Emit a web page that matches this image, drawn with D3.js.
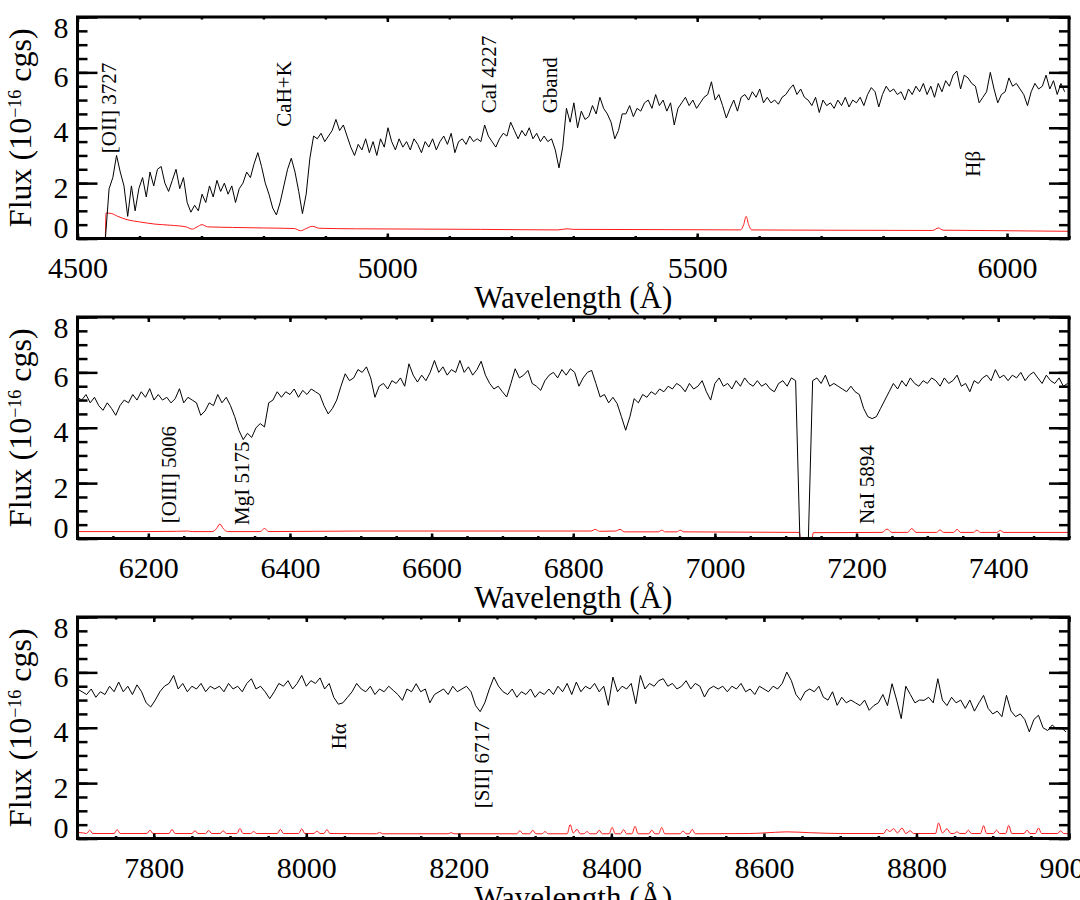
<!DOCTYPE html>
<html>
<head>
<meta charset="utf-8">
<script src="https://cdn.jsdelivr.net/npm/d3@7"></script>
<style>
  html, body { margin: 0; padding: 0; background: #fff; }
  svg { display: block; }
  text { font-family: "Liberation Serif", "Times New Roman", serif; fill: #000; }
</style>
</head>
<body>
<script>
// ---------------- DATA ----------------
const fluxStep = 6; // Angstrom sampling of the flux arrays

// Panel 1: 4545 - 6093 A
const flux1Start = 4545;
const flux1 = [
  0, 1.8, 2.2, 3.0, 2.4, 1.9, 0.8, 1.9, 1.0, 1.8,
  2.2, 1.5, 2.4, 1.9, 2.5, 2.6, 2.0, 1.7, 2.1, 2.5,
  1.8, 2.2, 1.3, 0.95, 1.2, 1.0, 1.6, 1.3, 1.9, 1.5,
  2.1, 1.7, 2.0, 1.6, 1.9, 1.3, 1.8, 2.0, 2.4, 2.2,
  2.7, 3.1, 2.6, 2.0, 1.6, 1.1, 0.85, 1.3, 1.9, 2.5,
  2.9, 2.4, 1.7, 0.9, 1.6, 2.9, 3.7, 3.6, 3.8, 3.5,
  3.7, 3.9, 4.3, 3.9, 4.1, 3.7, 3.3, 3.0, 3.4, 3.2,
  3.6, 3.1, 3.5, 3.0, 3.6, 3.3, 4.0, 3.5, 3.2, 3.6,
  3.3, 3.5, 3.2, 3.6, 3.4, 3.1, 3.5, 3.3, 3.6, 3.2,
  3.5, 3.7, 3.4, 3.8, 3.1, 3.5, 3.6, 3.4, 3.7, 3.5,
  3.6, 3.5, 4.1, 3.7, 3.5, 3.3, 3.6, 3.8, 3.7, 4.2,
  3.9, 3.6, 3.9, 3.7, 4.0, 3.6, 3.8, 3.5, 3.7, 3.5,
  3.6, 3.2, 2.55, 3.3, 4.7, 4.2, 4.9, 4.0, 4.6, 4.3,
  4.4, 4.8, 4.5, 5.1, 4.7, 4.5, 4.2, 3.6, 3.9, 4.5,
  4.5, 4.8, 4.4, 4.7, 4.6, 4.9, 5.0, 4.7, 5.2, 4.8,
  5.0, 4.6, 4.9, 4.1, 4.7, 4.9, 5.1, 4.8, 5.0, 4.7,
  4.9, 5.1, 5.2, 5.66, 5.0, 5.2, 4.8, 4.35, 4.7, 5.0,
  4.6, 5.1, 5.2, 5.0, 5.3, 5.1, 5.4, 4.9, 5.1, 4.9,
  5.0, 4.85, 5.1, 5.2, 5.4, 5.55, 5.2, 5.4, 5.1, 5.0,
  4.8, 5.1, 4.55, 5.0, 4.8, 4.9, 4.7, 5.0, 4.8, 5.1,
  4.75, 5.0, 4.9, 5.1, 4.8, 5.2, 5.45, 5.3, 4.75, 5.2,
  5.5, 5.3, 5.4, 5.2, 5.3, 5.0, 5.4, 5.2, 5.5, 5.3,
  5.6, 5.2, 5.5, 5.1, 5.6, 5.3, 5.7, 5.5, 5.9, 6.05,
  5.4, 5.9, 5.8, 5.6, 5.5, 4.9, 5.1, 5.3, 6.0, 5.4,
  4.9, 5.2, 5.3, 5.8, 5.5, 5.6, 5.4, 5.2, 4.8, 5.3,
  5.6, 5.4, 5.5, 5.9, 5.4, 5.7, 5.2, 5.6, 5.3
];

// Panel 2: 6100 - 7498 A
const flux2Start = 6100;
const flux2 = [
  5.1, 5.0, 5.2, 4.9, 5.1, 4.8, 4.63, 4.9, 4.7, 4.45,
  4.8, 5.0, 4.9, 5.2, 5.0, 5.3, 5.1, 5.41, 5.0, 5.2,
  5.0, 5.1, 4.9, 5.05, 5.41, 4.9, 5.1, 5.0, 4.9, 4.45,
  4.6, 4.9, 4.8, 5.2, 4.9, 5.1, 4.8, 4.4, 3.9, 3.57,
  3.8, 3.65, 4.0, 4.15, 4.03, 4.9, 5.0, 5.3, 5.1, 5.3,
  5.2, 5.4, 5.1, 5.35, 5.2, 5.4, 5.3, 5.2, 4.8, 4.5,
  4.7, 5.0, 5.5, 5.95, 5.7, 5.8, 6.1, 6.0, 6.2, 5.8,
  5.1, 5.5, 5.6, 5.4, 5.7, 5.6, 5.8, 5.5, 6.31, 5.9,
  5.65, 5.9, 5.7, 6.0, 6.43, 6.0, 6.2, 5.9, 6.1, 6.0,
  6.43, 6.0, 6.2, 5.9, 6.1, 6.4, 5.9, 5.6, 5.4, 5.5,
  5.3, 5.11, 5.6, 6.13, 5.8, 5.9, 6.07, 5.6, 5.5, 5.35,
  5.7, 5.9, 6.0, 5.8, 6.1, 5.9, 6.13, 6.0, 5.5, 5.8,
  6.0, 6.07, 5.6, 5.11, 5.2, 4.9, 5.1, 4.87, 4.4, 3.91,
  4.4, 5.05, 4.9, 5.2, 5.1, 5.3, 5.2, 5.4, 5.3, 5.5,
  5.4, 5.6, 5.5, 5.3, 5.6, 5.4, 5.5, 5.7, 5.3, 5.0,
  5.6, 5.8, 5.5, 5.6, 5.4, 5.7, 5.5, 5.8, 5.6, 5.5,
  5.7, 5.5, 5.6, 5.4, 5.3, 5.6, 5.7, 5.5, 5.8, 5.7,
  0, 0, 0, 5.7, 5.8, 5.6, 5.9, 5.5, 5.6, 5.5,
  5.4, 5.3, 5.5, 5.3, 5.2, 4.7, 4.4, 4.33, 4.4, 4.7,
  5.0, 5.3, 5.6, 5.4, 5.7, 5.5, 5.8, 5.6, 5.5, 5.7,
  5.6, 5.8, 5.7, 5.5, 5.8, 5.6, 5.7, 5.9, 5.5, 5.6,
  5.3, 5.7, 5.6, 5.8, 5.9, 5.7, 6.1, 5.8, 5.9, 5.7,
  5.9, 5.8, 6.0, 5.7, 5.9, 6.01, 5.8, 5.6, 5.9, 5.7,
  5.6, 5.8, 5.5, 5.6
];

// Panel 3: 7700 - 8996 A
const flux3Start = 7700;
const flux3 = [
  5.4, 5.3, 5.2, 5.4, 5.1, 5.3, 5.2, 5.5, 5.3, 5.65,
  5.3, 5.5, 5.2, 5.55, 5.3, 4.9, 4.75, 5.0, 5.3, 5.5,
  5.6, 5.89, 5.4, 5.6, 5.3, 5.5, 5.4, 5.6, 5.3, 5.5,
  5.4, 5.5, 5.3, 5.6, 5.4, 5.5, 5.3, 5.6, 5.77, 5.4,
  5.5, 5.3, 5.05, 5.3, 5.6, 5.5, 5.7, 5.4, 5.6, 5.89,
  5.5, 5.7, 5.6, 5.8, 5.4, 5.6, 5.1, 4.85, 4.9, 5.1,
  5.3, 5.6, 5.4, 5.3, 5.5, 5.2, 5.4, 5.3, 5.5, 5.35,
  5.2, 4.99, 5.4, 5.3, 5.59, 5.3, 5.4, 4.9, 5.2, 5.3,
  5.4, 5.2, 5.5, 5.3, 5.4, 5.5, 5.3, 4.8, 4.58, 4.9,
  5.4, 5.83, 5.5, 5.3, 5.2, 5.4, 5.1, 5.3, 5.2, 5.4,
  5.1, 5.3, 5.2, 5.4, 5.2, 5.5, 5.3, 5.6, 5.2, 5.65,
  5.3, 5.5, 5.4, 5.6, 5.3, 5.5, 4.81, 5.83, 5.3, 5.5,
  5.4, 5.6, 4.87, 5.89, 5.4, 5.6, 5.5, 5.7, 5.77, 5.5,
  5.6, 5.4, 5.5, 5.7, 5.4, 5.6, 5.5, 5.11, 5.4, 5.5,
  5.4, 5.5, 5.3, 5.5, 5.4, 5.6, 5.3, 5.4, 5.2, 5.5,
  5.4, 5.3, 5.5, 5.4, 5.6, 6.01, 5.7, 5.2, 4.99, 5.3,
  5.4, 5.3, 5.5, 5.1, 5.0, 5.3, 4.81, 5.1, 4.9, 5.0,
  4.9, 4.8, 5.0, 4.63, 4.8, 4.9, 5.2, 4.8, 5.59, 5.0,
  4.33, 5.5, 5.2, 4.9, 5.0, 4.99, 5.1, 4.9, 5.77, 5.0,
  4.8, 5.1, 4.9, 5.0, 4.7, 5.0, 4.6, 4.9, 5.17, 4.7,
  4.5, 4.6, 4.4, 5.17, 4.6, 4.4, 4.5, 4.3, 3.85, 4.3,
  4.45, 4.0, 3.9, 4.1, 3.95, 4.0, 3.85
];

// Error spectra (red): [wavelength, flux]
const err1 = [
  [4545,0],[4546,0.92],[4555,0.9],[4565,0.8],[4580,0.68],[4600,0.6],[4625,0.52],[4650,0.48],
  [4675,0.42],[4685,0.34],[4693,0.42],[4701,0.5],[4710,0.42],[4750,0.4],[4800,0.38],[4850,0.36],
  [4860,0.28],[4868,0.35],[4879,0.44],[4890,0.37],[4950,0.35],[5050,0.34],[5150,0.33],[5275,0.31],
  [5290,0.35],[5300,0.33],[5450,0.32],[5570,0.31],[5575,0.5],[5579,0.8],[5583,0.5],[5588,0.31],
  [5700,0.3],[5880,0.29],[5889,0.38],[5897,0.3],[5950,0.29],[6099,0.26]
];
const err2 = [
  [6100,0.25],[6200,0.25],[6240,0.26],[6255,0.27],[6262,0.25],[6290,0.25],[6296,0.35],[6301,0.52],
  [6306,0.35],[6312,0.25],[6358,0.25],[6364,0.36],[6370,0.25],[6500,0.27],[6700,0.27],[6825,0.27],
  [6831,0.33],[6837,0.26],[6860,0.27],[6866,0.33],[6872,0.24],[6920,0.24],[6925,0.3],[6930,0.24],
  [6946,0.24],[6951,0.3],[6956,0.24],[7119,0.22],[7121,0],[7137,0],[7139,0.21],[7236,0.22],
  [7243,0.34],[7250,0.22],[7272,0.22],[7278,0.36],[7284,0.22],[7313,0.22],[7318,0.31],[7323,0.22],
  [7337,0.22],[7342,0.33],[7347,0.22],[7365,0.22],[7370,0.3],[7375,0.22],[7398,0.22],[7403,0.29],
  [7408,0.22],[7500,0.22]
];
const err3 = [
  [7700,0.22],[7708,0.2],[7712,0.18],[7716,0.3],[7720,0.18],[7748,0.18],[7752,0.32],[7756,0.18],
  [7791,0.18],[7795,0.3],[7799,0.18],[7820,0.18],[7824,0.33],[7828,0.18],[7850,0.18],[7854,0.28],
  [7858,0.18],[7868,0.18],[7872,0.29],[7876,0.18],[7887,0.18],[7891,0.28],[7895,0.18],[7909,0.18],
  [7913,0.36],[7917,0.18],[7927,0.18],[7931,0.25],[7935,0.18],[7962,0.18],[7966,0.33],[7970,0.18],
  [7990,0.18],[7994,0.35],[7998,0.18],[8010,0.18],[8014,0.27],[8018,0.18],[8023,0.18],[8027,0.32],
  [8031,0.18],[8092,0.17],[8096,0.22],[8100,0.17],[8186,0.17],[8190,0.21],[8194,0.17],[8276,0.17],
  [8280,0.28],[8284,0.17],[8293,0.17],[8297,0.3],[8301,0.17],[8309,0.17],[8313,0.25],[8317,0.17],
  [8342,0.17],[8346,0.5],[8350,0.2],[8355,0.33],[8359,0.17],[8364,0.17],[8368,0.25],[8372,0.17],
  [8380,0.17],[8384,0.3],[8388,0.17],[8397,0.17],[8401,0.4],[8405,0.17],[8412,0.17],[8416,0.32],
  [8420,0.17],[8427,0.17],[8431,0.44],[8435,0.17],[8449,0.17],[8453,0.3],[8457,0.17],[8462,0.17],
  [8466,0.4],[8470,0.17],[8490,0.17],[8494,0.27],[8498,0.17],[8502,0.17],[8506,0.33],[8510,0.17],
  [8580,0.18],[8600,0.2],[8630,0.24],[8660,0.21],[8700,0.18],[8757,0.18],[8761,0.33],[8765,0.25],
  [8770,0.36],[8775,0.2],[8781,0.38],[8786,0.18],[8792,0.28],[8796,0.18],[8825,0.18],[8829,0.56],
  [8834,0.2],[8840,0.35],[8845,0.18],[8849,0.18],[8853,0.24],[8857,0.18],[8864,0.18],[8868,0.3],
  [8872,0.18],[8884,0.18],[8888,0.46],[8892,0.18],[8901,0.18],[8905,0.3],[8909,0.18],[8917,0.18],
  [8921,0.47],[8925,0.18],[8941,0.18],[8945,0.3],[8949,0.18],[8956,0.18],[8960,0.38],[8964,0.18],
  [8985,0.18],[8989,0.28],[8993,0.18],[9000,0.17]
];

// Axis ranges and ticks
const xRange1 = [4500, 6100], xMajor1 = [4500, 5000, 5500, 6000], xMinorStep1 = 100;
const xRange2 = [6100, 7500], xMajor2 = [6200, 6400, 6600, 6800, 7000, 7200, 7400], xMinorStep2 = 50;
const xRange3 = [7700, 9000], xMajor3 = [7800, 8000, 8200, 8400, 8600, 8800, 9000], xMinorStep3 = 50;
const yRange = [0, 8];
const yMajor = [0, 2, 4, 6, 8];
const yMinorStep = 0.5;

// Line identifications: [label, wavelength, flux at label start]
const lines1 = [["[OII] 3727", 4562, 3.08], ["CaH+K", 4844, 4.04], ["CaI 4227", 5175, 4.52],
                ["Gband", 5273, 4.52], ["Hβ", 5957, 2.23]];
const lines2 = [["[OIII] 5006", 6239, 0.55], ["MgI 5175", 6342, 0.49], ["NaI 5894", 7225, 0.52]];
const lines3 = [["Hα", 8052, 3.22], ["[SII] 6717", 8240, 1.09]];

const xTitle = "Wavelength (Å)";

// ---------------- DRAW ----------------
const FONT = '"Liberation Serif", "Times New Roman", serif';
const W = 1080, H = 900;
const left = 77.5, right = 1069, top0 = 17, plotH = 221.5, pitch = 300;

const svg = d3.select("body").append("svg").attr("width", W).attr("height", H)
  .attr("font-family", FONT);
svg.append("rect").attr("width", W).attr("height", H).attr("fill", "#fff");

const panels = [
  { xr: xRange1, xm: xMajor1, xs: xMinorStep1, start: flux1Start, flux: flux1, err: err1, lines: lines1 },
  { xr: xRange2, xm: xMajor2, xs: xMinorStep2, start: flux2Start, flux: flux2, err: err2, lines: lines2 },
  { xr: xRange3, xm: xMajor3, xs: xMinorStep3, start: flux3Start, flux: flux3, err: err3, lines: lines3 }
];

const yMinor = d3.range(yRange[0], yRange[1] + 1e-9, yMinorStep);

panels.forEach((p, k) => {
  const top = top0 + k * pitch, bottom = top + plotH;
  const x = d3.scaleLinear().domain(p.xr).range([left, right]);
  const y = d3.scaleLinear().domain(yRange).range([bottom, top]);
  const g = svg.append("g");

  const clipId = "clip" + k;
  svg.append("clipPath").attr("id", clipId).append("rect")
    .attr("x", left).attr("y", top).attr("width", right - left).attr("height", plotH);

  const spec = p.flux.map((v, i) => [p.start + i * fluxStep, v]);
  const line = d3.line().x(d => x(d[0])).y(d => y(d[1]));
  const smooth = d3.line().x(d => x(d[0])).y(d => y(d[1])).curve(d3.curveMonotoneX);

  const plot = g.append("g").attr("clip-path", `url(#${clipId})`);
  plot.append("path").datum(p.err).attr("d", smooth)
    .attr("fill", "none").attr("stroke", "#ff1a1a").attr("stroke-width", 1);
  plot.append("path").datum(spec).attr("d", line)
    .attr("fill", "none").attr("stroke", "#000").attr("stroke-width", 1).attr("stroke-linejoin", "round");

  const xMinor = d3.range(p.xr[0], p.xr[1] + 1e-9, p.xs);
  const styleAxis = sel => {
    sel.attr("font-family", FONT).attr("font-size", 30);
    sel.select(".domain").remove();
    sel.selectAll(".tick line").attr("stroke", "#000").attr("stroke-width", 2.5);
    sel.selectAll("text").attr("font-family", FONT).attr("font-size", 30)
      .style("font-family", FONT).style("font-size", "30px").attr("fill", "#000");
  };
  g.append("g").attr("transform", `translate(0,${bottom})`)
    .call(d3.axisBottom(x).tickValues(xMinor).tickSize(-2.5).tickFormat("")).call(styleAxis);
  g.append("g").attr("transform", `translate(0,${top})`)
    .call(d3.axisTop(x).tickValues(xMinor).tickSize(-2.5).tickFormat("")).call(styleAxis);
  const xb = g.append("g").attr("transform", `translate(0,${bottom})`)
    .call(d3.axisBottom(x).tickValues(p.xm).tickSize(-5).tickFormat(d3.format("d"))).call(styleAxis);
  xb.selectAll("text").attr("y", 39).attr("dy", 0);
  g.append("g").attr("transform", `translate(0,${top})`)
    .call(d3.axisTop(x).tickValues(p.xm).tickSize(-5).tickFormat("")).call(styleAxis);

  g.append("g").attr("transform", `translate(${left},0)`)
    .call(d3.axisLeft(y).tickValues(yMinor).tickSize(-10).tickFormat("")).call(styleAxis);
  g.append("g").attr("transform", `translate(${right},0)`)
    .call(d3.axisRight(y).tickValues(yMinor).tickSize(-10).tickFormat("")).call(styleAxis);
  const yl = g.append("g").attr("transform", `translate(${left},0)`)
    .call(d3.axisLeft(y).tickValues(yMajor).tickSize(-20).tickPadding(9).tickFormat(d3.format("d"))).call(styleAxis);
  yl.selectAll("text").attr("dy", d => (d === yRange[1] ? 20 : d === yRange[0] ? -1 : 14) + "px");
  g.append("g").attr("transform", `translate(${right},0)`)
    .call(d3.axisRight(y).tickValues(yMajor).tickSize(-20).tickFormat("")).call(styleAxis);

  g.append("rect").attr("x", left).attr("y", top).attr("width", right - left).attr("height", plotH)
    .attr("fill", "none").attr("stroke", "#000").attr("stroke-width", 3);

  // y title
  const yt = g.append("text")
    .attr("transform", `translate(31,${(top + bottom) / 2}) rotate(-90)`)
    .attr("text-anchor", "middle").style("font-size", "32px");
  yt.append("tspan").text("Flux (10");
  yt.append("tspan").text("−16").style("font-size", "18px").attr("dy", -10);
  yt.append("tspan").text(" cgs)").attr("dy", 10);

  // x title
  g.append("text").attr("x", (left + right) / 2).attr("y", bottom + 69)
    .attr("text-anchor", "middle").style("font-size", "31px").text(xTitle);

  // line identifications
  g.selectAll("text.lid").data(p.lines).enter().append("text").attr("class", "lid")
    .attr("transform", d => `translate(${x(d[1])},${y(d[2])}) rotate(-90)`)
    .style("font-size", "21px").text(d => d[0]);
});
</script>
</body>
</html>
